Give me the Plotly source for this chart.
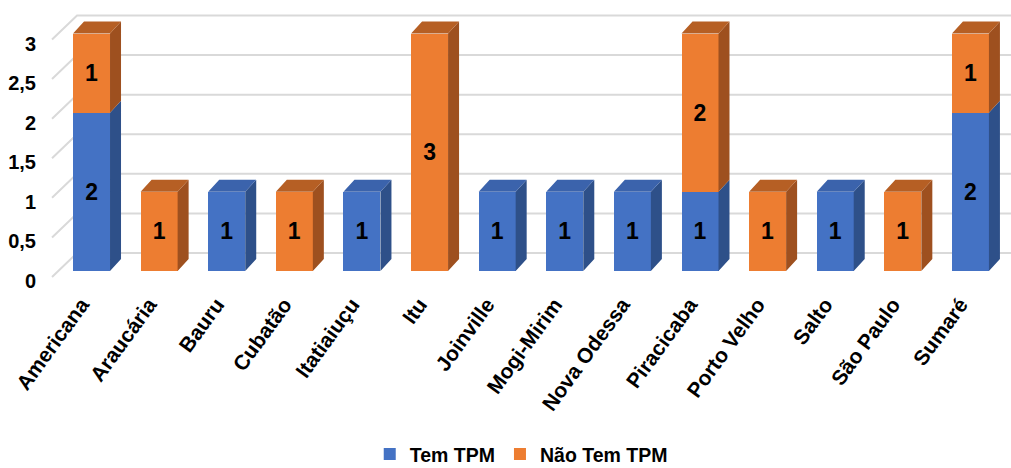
import plotly.graph_objects as go

# Data
cidades = ["Americana", "Araucária", "Bauru", "Cubatão", "Itatiaiuçu", "Itu",
           "Joinville", "Mogi-Mirim", "Nova Odessa", "Piracicaba", "Porto Velho",
           "Salto", "São Paulo", "Sumaré"]
tem_tpm = [2, 0, 1, 0, 1, 0, 1, 1, 1, 1, 0, 1, 0, 2]
nao_tem_tpm = [1, 1, 0, 1, 0, 3, 0, 0, 0, 2, 1, 0, 1, 1]
y_ticks = [0, 0.5, 1, 1.5, 2, 2.5, 3]
y_tick_text = ["0", "0,5", "1", "1,5", "2", "2,5", "3"]

# Geometry of the pseudo-3D look
W, H = 1011, 468
M_L, M_R, M_T, M_B = 45, 0, 5, 186
X_RANGE = [-0.688, 13.60]
Y_RANGE = [-0.139, 3.36]
px_x = (W - M_L - M_R) / (X_RANGE[1] - X_RANGE[0])
px_y = (H - M_T - M_B) / (Y_RANGE[1] - Y_RANGE[0])

BAR_W = 37 / px_x          # front face width
DEPTH_DX = 11 / px_x       # bar depth, horizontal shift
DEPTH_DY = 12 / px_y       # bar depth, vertical shift
FRONT_DX, FRONT_DY = -39.5 / px_x, -6 / px_y   # front edge of the side wall
BACK_DX, BACK_DY = -14.5 / px_x, 18 / px_y     # back wall
LABEL_DY = -10 / px_y                          # value labels sit on the front edge

BLUE = "#4472C4"
BLUE_SIDE = "#2E5089"
BLUE_TOP = "#3B63AC"
ORANGE = "#ED7D31"
ORANGE_SIDE = "#9E501F"
ORANGE_TOP = "#B65F24"
GRID = "#D9D9D9"
FONT = "Liberation Sans, Arial, sans-serif"

fig = go.Figure()

# Gridlines (base axes, below everything): left-wall diagonal plus back wall
gx, gy = [], []
for v in y_ticks:
    gx += [FRONT_DX, BACK_DX, X_RANGE[1] + 1, None]
    gy += [v + FRONT_DY, v + BACK_DY, v + BACK_DY, None]
fig.add_trace(go.Scatter(x=gx, y=gy, mode="lines", line=dict(color=GRID, width=2),
                         hoverinfo="skip", showlegend=False, xaxis="x", yaxis="y"))

n = len(cidades)
idx = list(range(n))

label_font = dict(family=FONT, size=23, color="black", weight="bold")

# Front faces of the stacked bars
fig.add_trace(go.Bar(
    x=idx, y=tem_tpm, width=BAR_W, name="Tem TPM", marker=dict(color=BLUE, line=dict(width=0)),
    text=[str(v) if v else "" for v in tem_tpm], textposition="inside",
    insidetextanchor="middle", textangle=0, insidetextfont=label_font, constraintext="none",
    xaxis="x2", yaxis="y2"))
fig.add_trace(go.Bar(
    x=idx, y=nao_tem_tpm, width=BAR_W, name="Não Tem TPM", marker=dict(color=ORANGE, line=dict(width=0)),
    text=[str(v) if v else "" for v in nao_tem_tpm], textposition="inside",
    insidetextanchor="middle", textangle=0, insidetextfont=label_font, constraintext="none",
    xaxis="x2", yaxis="y2"))


def faces(bases, heights, with_top):
    sx, sy, tx, ty = [], [], [], []
    for i, (b, h) in enumerate(zip(bases, heights)):
        if h <= 0:
            continue
        xr = i + BAR_W / 2
        xl = i - BAR_W / 2
        y0, y1 = b, b + h
        sx += [xr, xr + DEPTH_DX, xr + DEPTH_DX, xr, xr, None]
        sy += [y0, y0 + DEPTH_DY, y1 + DEPTH_DY, y1, y0, None]
        if with_top[i]:
            tx += [xl, xr, xr + DEPTH_DX, xl + DEPTH_DX, xl, None]
            ty += [y1, y1, y1 + DEPTH_DY, y1 + DEPTH_DY, y1, None]
    return sx, sy, tx, ty


blue_top = [o == 0 for o in nao_tem_tpm]
orange_top = [True] * n
bsx, bsy, btx, bty = faces([0] * n, tem_tpm, blue_top)
osx, osy, otx, oty = faces(tem_tpm, nao_tem_tpm, orange_top)

# Side and top faces
for xs, ys, col in [(bsx, bsy, BLUE_SIDE), (btx, bty, BLUE_TOP),
                    (osx, osy, ORANGE_SIDE), (otx, oty, ORANGE_TOP)]:
    if xs:
        fig.add_trace(go.Scatter(x=xs, y=ys, mode="lines", fill="toself",
                                 fillcolor=col, line=dict(width=0, color=col),
                                 hoverinfo="skip", showlegend=False,
                                 xaxis="x2", yaxis="y2"))

fig.update_layout(
    width=W, height=H, barmode="stack",
    margin=dict(l=M_L, r=M_R, t=M_T, b=M_B, autoexpand=False),
    plot_bgcolor="white", paper_bgcolor="white",
    font=dict(family=FONT, size=20, color="black"),
    xaxis=dict(range=X_RANGE, tickvals=idx, ticktext=cidades, tickangle=-54,
               showgrid=False, zeroline=False, showline=False, automargin=False,
               tickfont=dict(family=FONT, size=21, color="black", weight="bold"),
               ticks="outside", ticklen=1, tickcolor="rgba(0,0,0,0)", ticklabelshift=-10),
    yaxis=dict(range=Y_RANGE, tickvals=[v + LABEL_DY for v in y_ticks], ticktext=y_tick_text,
               showgrid=False, zeroline=False, showline=False, automargin=False,
               tickfont=dict(family=FONT, size=20, color="black", weight="bold"),
               ticks="outside", ticklen=4, tickcolor="rgba(0,0,0,0)"),
    xaxis2=dict(range=X_RANGE, overlaying="x", visible=False),
    yaxis2=dict(range=Y_RANGE, overlaying="y", visible=False),
    legend=dict(orientation="h", x=0.493, xanchor="center", y=-0.622, yanchor="middle",
                font=dict(family=FONT, size=19.5, color="black", weight="bold"),
                traceorder="normal"),
    showlegend=True,
)

fig.write_html("out.html")
